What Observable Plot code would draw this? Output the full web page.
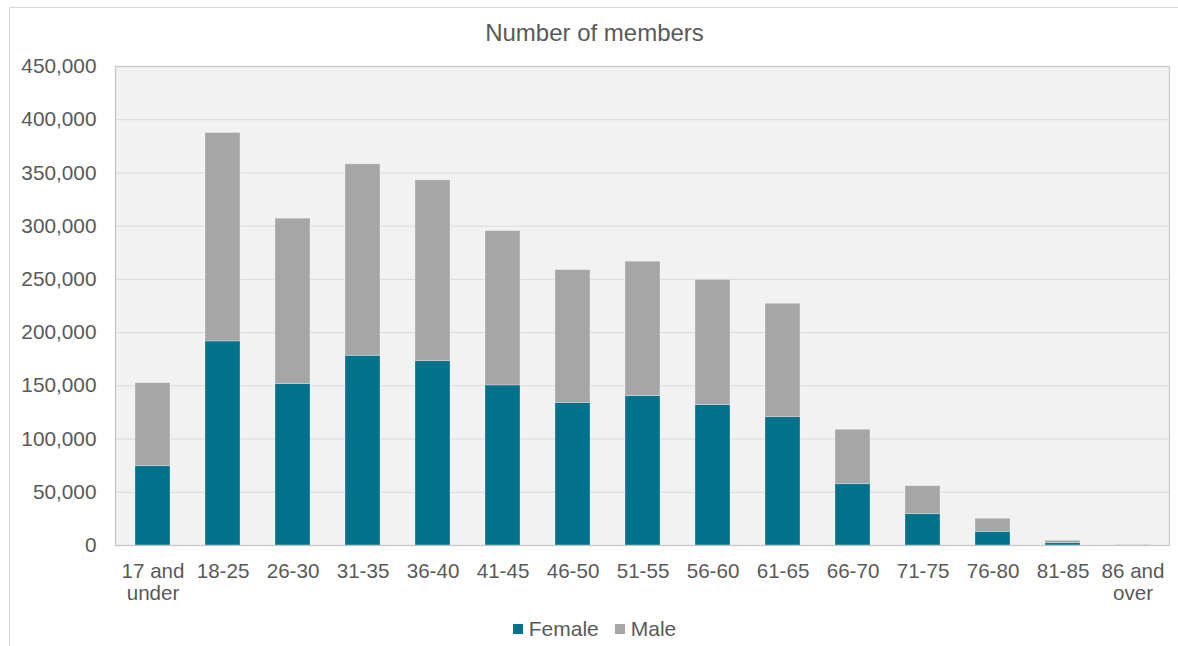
<!DOCTYPE html>
<html>
<head>
<meta charset="utf-8">
<script src="https://cdn.jsdelivr.net/npm/d3@7"></script>
<script src="https://cdn.jsdelivr.net/npm/@observablehq/plot@0.6"></script>
<style>
  html, body { margin: 0; padding: 0; background: #fff; }
  #wrap { position: relative; width: 1178px; height: 646px; overflow: hidden; font-family: "Liberation Sans", Arial, sans-serif; color: #595959; }
  #outer { position: absolute; left: 9px; top: 7px; width: 1300px; height: 800px; border: 1px solid #d9d9d9; box-sizing: border-box; }
  #title { position: absolute; left: 9px; top: 0; width: 1171px; height: 50px; line-height: 66px; text-align: center; font-size: 24px; }
  #chart { position: absolute; left: 0; top: 50px; }
  #legend { position: absolute; left: 9px; top: 617px; width: 1171px; height: 24px; display: flex; justify-content: center; align-items: center; font-size: 21px; }
  .item { display: flex; align-items: center; margin: 0 8px; }
  .sw { width: 10px; height: 10px; margin-right: 6px; }
</style>
</head>
<body>
<div id="wrap">
  <div id="outer"></div>
  <div id="title">Number of members</div>
  <div id="chart"></div>
  <div id="legend"></div>
</div>
<script>
const ageGroups = ["17 and under","18-25","26-30","31-35","36-40","41-45","46-50","51-55","56-60","61-65","66-70","71-75","76-80","81-85","86 and over"];
const ageLabels = ["17 and\nunder","18-25","26-30","31-35","36-40","41-45","46-50","51-55","56-60","61-65","66-70","71-75","76-80","81-85","86 and\nover"];
const female = [74500, 191700, 151600, 178200, 173200, 150400, 133800, 140300, 131900, 120600, 57600, 29400, 12800, 2200, 200];
const male   = [78000, 195800, 155400, 179900, 169800, 145000, 124900, 126300, 117500, 106500, 51100, 26300, 12300, 2200, 200];
const seriesNames = ["Female", "Male"];
const seriesColors = ["#00728c", "#a6a6a6"];
const yTicks = [0, 50000, 100000, 150000, 200000, 250000, 300000, 350000, 400000, 450000];

const rows = [];
ageGroups.forEach((a, i) => {
  rows.push({age: a, sex: "Female", value: female[i]});
  rows.push({age: a, sex: "Male", value: male[i]});
});
const labelOf = new Map(ageGroups.map((a, i) => [a, ageLabels[i]]));

const chart = Plot.plot({
  width: 1178,
  height: 560,
  marginTop: 16,
  marginLeft: 115,
  marginRight: 9,
  marginBottom: 65,
  style: { fontFamily: '"Liberation Sans", Arial, sans-serif', fontSize: "20.8px", color: "#595959", background: "transparent" },
  x: { domain: ageGroups, paddingInner: 0.5, paddingOuter: 0.25, label: null },
  y: { domain: [0, 450000], label: null },
  color: { domain: seriesNames, range: seriesColors },
  marks: [
    Plot.frame({ fill: "#f2f2f2", stroke: null }),
    Plot.gridY(yTicks, { stroke: "#d9d9d9", strokeOpacity: 1, strokeWidth: 1 }),
    Plot.barY(rows, { x: "age", y: "value", fill: "sex", order: seriesNames, stroke: "#ffffff", strokeOpacity: 0.35, strokeWidth: 0.8 }),
    Plot.frame({ stroke: "#c4c4c4", strokeWidth: 1.2 }),
    Plot.axisY({ ticks: yTicks, tickFormat: d3.format(","), tickSize: 0, tickPadding: 19, fontSize: 20.8, fill: "#595959" }),
    Plot.axisX({ tickFormat: d => labelOf.get(d), tickSize: 0, tickPadding: 16, fontSize: 20.6, lineHeight: 1.1, fill: "#595959" })
  ]
});
document.getElementById("chart").appendChild(chart);

const legend = document.getElementById("legend");
seriesNames.forEach((name, i) => {
  const item = document.createElement("div");
  item.className = "item";
  const sw = document.createElement("div");
  sw.className = "sw";
  sw.style.background = seriesColors[i];
  const t = document.createElement("span");
  t.textContent = name;
  item.appendChild(sw);
  item.appendChild(t);
  legend.appendChild(item);
});
</script>
</body>
</html>
